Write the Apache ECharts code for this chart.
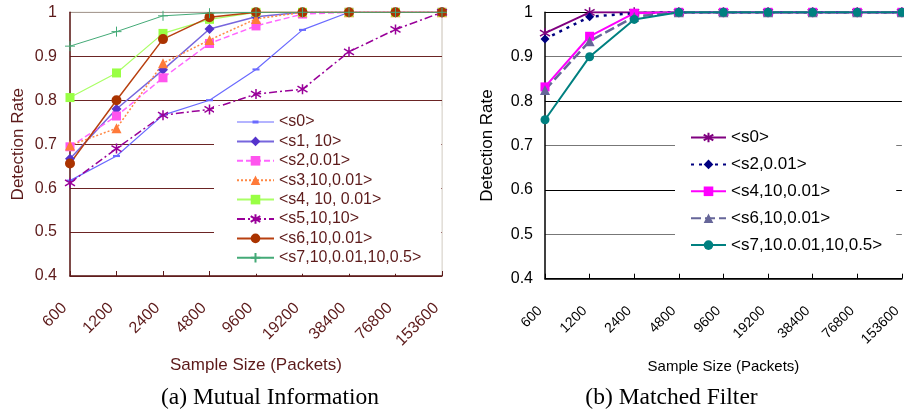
<!DOCTYPE html>
<html>
<head>
<meta charset="utf-8">
<script src="https://cdn.jsdelivr.net/npm/echarts@6/dist/echarts.min.js"></script>
<style>
html,body{margin:0;padding:0;background:#fff;}
#wrap{position:relative;width:904px;height:413px;}
.c{position:absolute;left:0;top:0;width:904px;height:413px;}
</style>
</head>
<body>
<div id="wrap"><div id="a" class="c"></div><div id="b" class="c"></div></div>
<script>
// ---- data ----
const categories = ['600','1200','2400','4800','9600','19200','38400','76800','153600'];
const yTicks = [0.4, 0.5, 0.6, 0.7, 0.8, 0.9, 1];

const miNames = ['<s0>','<s1, 10>','<s2,0.01>','<s3,10,0.01>','<s4, 10, 0.01>','<s5,10,10>','<s6,10,0.01>','<s7,10,0.01,10,0.5>'];
const miS0 = [0.617, 0.673, 0.766, 0.800, 0.870, 0.960, 1, 1, 1];
const miS1 = [0.667, 0.780, 0.869, 0.962, 0.990, 1, 1, 1, 1];
const miS2 = [0.694, 0.764, 0.851, 0.929, 0.969, 0.996, 1, 1, 1];
const miS3 = [0.697, 0.736, 0.884, 0.937, 0.985, 1, 1, 1, 1];
const miS4 = [0.806, 0.862, 0.952, 0.984, 1, 1, 1, 1, 1];
const miS5 = [0.612, 0.690, 0.766, 0.779, 0.814, 0.825, 0.910, 0.961, 1];
const miS6 = [0.656, 0.800, 0.939, 0.989, 1, 1, 1, 1, 1];
const miS7 = [0.923, 0.956, 0.992, 0.998, 1, 1, 1, 1, 1];

const mfNames = ['<s0>','<s2,0.01>','<s4,10,0.01>','<s6,10,0.01>','<s7,10.0.01,10,0.5>'];
const mfS0 = [0.953, 1, 1, 1, 1, 1, 1, 1, 1];
const mfS2 = [0.940, 0.990, 0.998, 1, 1, 1, 1, 1, 1];
const mfS4 = [0.832, 0.946, 0.998, 1, 1, 1, 1, 1, 1];
const mfS6 = [0.825, 0.935, 0.990, 1, 1, 1, 1, 1, 1];
const mfS7 = [0.758, 0.900, 0.984, 1, 1, 1, 1, 1, 1];

// ---- styles ----
const SANS = 'Liberation Sans, Arial, sans-serif';
const SERIF = 'Liberation Serif, Times New Roman, serif';
const BROWN = '#5c1a1a';
const STAR = 'path://M5,0L5,10M1,2L9,8M9,2L1,8';
const PLUS = 'path://M5,0L5,10M0,5L10,5';
const DASH = 'path://M0,0L10,0L10,3L0,3Z';
const DASH_ICON = 'path://M0,5.4L37,5.4L37,6.6L0,6.6ZM15.5,4.5L21.5,4.5L21.5,7.5L15.5,7.5Z';

function yFmt(v){ return String(+v.toFixed(1)); }

function lineSeries(name, data, o){
  return {
    name: name, type: 'line', data: data,
    symbol: o.symbol, symbolSize: o.size,
    symbolKeepAspect: !!o.keep,
    showAllSymbol: true,
    lineStyle: {color: o.line || o.color, width: o.width, type: o.dash || 'solid'},
    itemStyle: {color: o.fill === undefined ? o.color : o.fill, borderColor: o.color, borderWidth: o.bw || 0},
    emphasis: {disabled: true},
    animation: false
  };
}

// ---- chart (a) ----
const chartA = echarts.init(document.getElementById('a'), null, {renderer: 'canvas'});
const seriesA = [
  lineSeries(miNames[0], miS0, {color:'#6a6aff', symbol: DASH, size: 7, keep: true, width: 1.2}),
  lineSeries(miNames[1], miS1, {color:'#5533cc', line:'#7766dd', symbol:'diamond', size: 10, width: 1.5}),
  lineSeries(miNames[2], miS2, {color:'#ff55ee', line:'#ff66ff', symbol:'rect', size: 9, width: 1.5, dash:[6,3]}),
  lineSeries(miNames[3], miS3, {color:'#ff7a3a', line:'#ff8844', symbol:'triangle', size: 10, width: 1.5, dash:[2,2]}),
  lineSeries(miNames[4], miS4, {color:'#99ff44', line:'#aaff66', symbol:'rect', size: 9, width: 1.2}),
  lineSeries(miNames[5], miS5, {color:'#990099', fill:'#990099', symbol: STAR, size: 10, bw: 1.5, width: 1.5, dash:[8,3,2,3]}),
  lineSeries(miNames[6], miS6, {color:'#aa3300', line:'#b84010', symbol:'circle', size: 10, width: 1.5}),
  lineSeries(miNames[7], miS7, {color:'#44aa77', fill:'#44aa77', symbol: PLUS, size: 10, bw: 1, width: 1})
];
const legendA = miNames.map((n, i) => i === 0 ? {name: n, icon: DASH_ICON} : n);
chartA.setOption({
  animation: false,
  grid: {left: 70, top: 12.3, width: 372, height: 263.7, show: true, borderColor: '#c8c0b4', borderWidth: 1, backgroundColor: 'transparent'},
  xAxis: {
    type: 'category', data: categories, boundaryGap: false,
    axisLine: {lineStyle: {color: BROWN, width: 1.5}},
    axisTick: {inside: true, length: 5, lineStyle: {color: BROWN}},
    axisLabel: {rotate: 45, margin: 24, padding: [0, 8, 0, 0], color: BROWN, fontSize: 16, fontFamily: SANS, interval: 0},
    name: 'Sample Size (Packets)', nameLocation: 'middle', nameGap: 81,
    nameTextStyle: {color: BROWN, fontSize: 17, fontFamily: SANS},
    splitLine: {show: false}
  },
  yAxis: {
    type: 'value', min: 0.4, max: 1, interval: 0.1,
    axisLine: {show: true, lineStyle: {color: BROWN, width: 1.5}},
    axisTick: {show: false},
    axisLabel: {color: BROWN, fontSize: 16, fontFamily: SANS, margin: 13, formatter: yFmt},
    splitLine: {show: true, lineStyle: {color: ['#6b2424','#6b2424','#6b2424','#6b2424','#6b2424','#6b2424','#a89c94'], width: 1}},
    name: 'Detection Rate', nameLocation: 'middle', nameGap: 43,
    nameTextStyle: {color: BROWN, fontSize: 17, fontFamily: SANS}
  },
  legend: {
    data: legendA, orient: 'vertical', left: 214, top: 106,
    padding: [8, 20, 8, 22], backgroundColor: '#fff',
    itemWidth: 37, itemHeight: 12, itemGap: 3.4,
    textStyle: {color: BROWN, fontSize: 16, fontFamily: SANS, lineHeight: 16},
    selectedMode: false
  },
  graphic: [{
    type: 'text', x: 270, y: 398,
    style: {text: '(a) Mutual Information', font: '23.5px ' + SERIF, fill: '#000', align: 'center', verticalAlign: 'middle'}
  }],
  series: seriesA
});

// ---- chart (b) ----
const chartB = echarts.init(document.getElementById('b'), null, {renderer: 'canvas'});
const seriesB = [
  lineSeries(mfNames[0], mfS0, {color:'#800080', fill:'#800080', symbol: STAR, size: 10, bw: 1.5, width: 2}),
  lineSeries(mfNames[1], mfS2, {color:'#000080', symbol:'diamond', size: 9, width: 2.5, dash:[3,5]}),
  lineSeries(mfNames[2], mfS4, {color:'#ff00ff', symbol:'rect', size: 9, width: 2}),
  lineSeries(mfNames[3], mfS6, {color:'#666699', symbol:'triangle', size: 10, width: 2.5, dash:[10,4]}),
  lineSeries(mfNames[4], mfS7, {color:'#008080', symbol:'circle', size: 9, width: 2})
];
chartB.setOption({
  animation: false,
  grid: {left: 545, top: 12.3, width: 359, height: 266.4},
  xAxis: {
    type: 'category', data: categories, boundaryGap: false,
    axisLine: {lineStyle: {color: '#000', width: 1.5}},
    axisTick: {inside: true, length: 5, lineStyle: {color: '#000'}},
    axisLabel: {rotate: 45, margin: 25, padding: [0, 7, 0, 0], color: '#000', fontSize: 14, fontFamily: SANS, interval: 0},
    name: 'Sample Size (Packets)', nameLocation: 'middle', nameGap: 81,
    nameTextStyle: {color: '#000', fontSize: 15, fontFamily: SANS},
    splitLine: {show: false}
  },
  yAxis: {
    type: 'value', min: 0.4, max: 1, interval: 0.1,
    axisLine: {show: true, lineStyle: {color: '#000', width: 1.5}},
    axisTick: {show: false},
    axisLabel: {color: '#000', fontSize: 16, fontFamily: SANS, margin: 12, formatter: yFmt},
    splitLine: {show: true, lineStyle: {color: ['#000', '#777'], width: 1}},
    name: 'Detection Rate', nameLocation: 'middle', nameGap: 49,
    nameTextStyle: {color: '#000', fontSize: 17, fontFamily: SANS}
  },
  legend: {
    data: mfNames, orient: 'vertical', left: 675, top: 119,
    padding: [10, 14, 10, 15], backgroundColor: '#fff',
    itemWidth: 35, itemHeight: 12, itemGap: 9.9,
    textStyle: {color: '#000', fontSize: 17, fontFamily: SANS, lineHeight: 17},
    selectedMode: false
  },
  graphic: [{
    type: 'text', x: 671.5, y: 398,
    style: {text: '(b) Matched Filter', font: '23.5px ' + SERIF, fill: '#000', align: 'center', verticalAlign: 'middle'}
  }],
  series: seriesB
});
</script>
</body>
</html>
